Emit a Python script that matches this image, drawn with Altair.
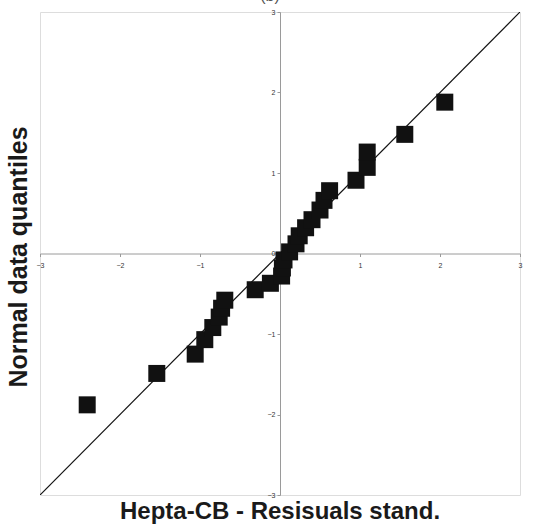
import altair as alt
import pandas as pd

# Data
x_vals = [-2.41, -1.54, -1.06, -0.94, -0.84, -0.76, -0.73, -0.69, -0.31, -0.12,
          0.02, 0.03, 0.05, 0.12, 0.20, 0.24, 0.32, 0.40, 0.50, 0.55,
          0.62, 0.95, 1.09, 1.09, 1.56, 2.06]
y_vals = [-1.88, -1.49, -1.25, -1.07, -0.92, -0.79, -0.68, -0.58, -0.45, -0.37,
          -0.28, -0.18, -0.08, 0.02, 0.12, 0.22, 0.32, 0.42, 0.54, 0.66,
          0.78, 0.91, 1.07, 1.26, 1.48, 1.88]
line_x = [-3, 3]
line_y = [-3, 3]
tick_values = [-3, -2, -1, 0, 1, 2, 3]
x_title = "Hepta-CB - Resisuals stand."
y_title = "Normal data quantiles"
top_title = "(b)"

W, H = 480, 483

pts = pd.DataFrame({"x": x_vals, "y": y_vals})
diag = pd.DataFrame({"x": line_x, "y": line_y})

xs = alt.Scale(domain=[-3, 3], nice=False, zero=False)
ys = alt.Scale(domain=[-3, 3], nice=False, zero=False)

x_axis = alt.Axis(values=tick_values, title=None, offset=-H / 2, domainColor="#9a9a9a",
                  domainWidth=1, tickColor="#9a9a9a", tickSize=3, labelFontSize=7,
                  labelColor="#333333", labelPadding=5, labelFont="Liberation Sans",
                  labelOverlap=False, labelFlush=False, grid=False)
y_axis = alt.Axis(values=tick_values, title=None, offset=-W / 2, domainColor="#9a9a9a",
                  domainWidth=1, tickColor="#9a9a9a", tickSize=3, labelFontSize=7,
                  labelColor="#333333", labelPadding=2, labelFont="Liberation Sans",
                  labelOverlap=False, labelFlush=False, grid=False)

line = alt.Chart(diag).mark_line(color="#111111", strokeWidth=1.2, clip=True).encode(
    x=alt.X("x:Q", scale=xs, axis=x_axis),
    y=alt.Y("y:Q", scale=ys, axis=y_axis),
)

squares = alt.Chart(pts).mark_square(size=289, color="#111111", opacity=1).encode(
    x=alt.X("x:Q", scale=xs, axis=x_axis),
    y=alt.Y("y:Q", scale=ys, axis=y_axis),
)

xt = alt.Chart(pd.DataFrame({"t": [x_title]})).mark_text(
    font="Liberation Sans", fontSize=24, fontWeight="bold", color="#1a1a1a",
    baseline="alphabetic", align="center"
).encode(x=alt.value(W / 2), y=alt.value(H + 24), text="t:N")

yt = alt.Chart(pd.DataFrame({"t": [y_title]})).mark_text(
    font="Liberation Sans", fontSize=25, fontWeight="bold", color="#1a1a1a",
    baseline="middle", align="center", angle=270
).encode(x=alt.value(-21), y=alt.value(245), text="t:N")

tt = alt.Chart(pd.DataFrame({"t": [top_title]})).mark_text(
    font="Liberation Sans", fontSize=16, color="#555555",
    baseline="alphabetic", align="center"
).encode(x=alt.value(W / 2 - 10), y=alt.value(-11), text="t:N")

chart = alt.layer(line, squares, xt, yt, tt).properties(
    width=W, height=H,
    padding={"left": 40, "top": 12, "right": 16, "bottom": 29},
    autosize=alt.AutoSizeParams(type="none"),
).configure_view(stroke="#000000", strokeWidth=2.2).configure(background="white")

chart.save("out.html", embed_options={"renderer": "svg", "actions": False})
